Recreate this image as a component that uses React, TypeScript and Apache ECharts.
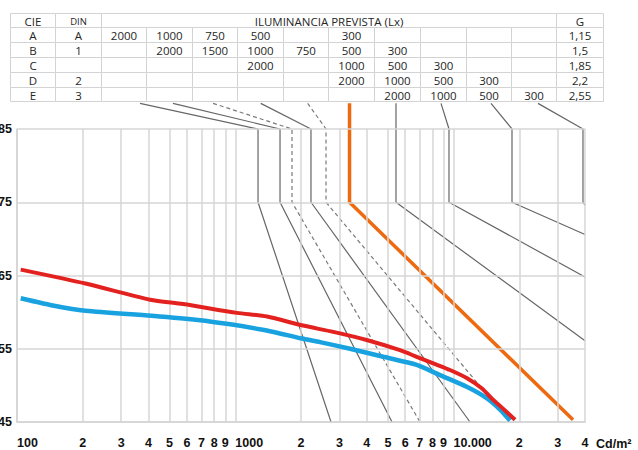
import React, { useEffect, useRef } from 'react';
import * as echarts from 'echarts';

// ---- axis ticks ----
const xTickValues = [100, 200, 300, 400, 500, 600, 700, 800, 900, 1000, 2000, 3000, 4000, 5000, 6000, 7000, 8000, 9000, 10000, 20000, 30000, 40000];
const xTickLabels = ['100', '2', '3', '4', '5', '6', '7', '8', '9', '1000', '2', '3', '4', '5', '6', '7', '8', '9', '10.000', '2', '3', '4'];
const yTickValues = [45, 55, 65, 75, 85];
const yTickLabels = ['45', '55', '65', '75', '85'];

// ---- curves (luminance cd/m², glare angle) ----
const redCurve = [[104, 65.8], [206, 63.9], [407, 61.7], [576, 61.1], [1018, 59.9], [1397, 59.4], [2015, 58.2], [2812, 57.3], [4000, 56.2], [5683, 54.8], [6778, 53.9], [8074, 53.0], [9630, 52.1], [11486, 51.0], [13452, 49.6], [15205, 48.0], [16320, 47.2], [19120, 45.3]];
const blueCurve = [[104, 61.9], [152, 60.8], [206, 60.2], [414, 59.5], [689, 58.9], [913, 58.4], [1393, 57.5], [2015, 56.4], [2444, 55.9], [3354, 55.0], [4765, 53.9], [6778, 52.8], [8667, 51.4], [11486, 49.8], [14180, 48.25], [16320, 46.7], [18140, 45.2]];
const orangeLimit = [[3337, 88.5], [3337, 75], [35250, 45.3]];
const solidGuides = [
  [[366, 88.5], [1271, 85], [1271, 75], [2745, 45]],
  [[518, 88.5], [1603, 85], [1603, 75], [5224, 45]],
  [[1308, 88.5], [2222, 85], [2222, 75], [11890, 45]],
  [[5447, 88.5], [5447, 75], [40000, 56.1]],
  [[8758, 88.5], [9528, 85], [9528, 75], [40000, 64.8]],
  [[14840, 88.5], [18520, 85], [18520, 75], [40000, 70.6]],
  [[24360, 88.5], [39160, 85], [39160, 75], [40000, 74.6]],
];
const dashedGuides = [
  [[791, 88.5], [1819, 85], [1819, 75], [7019, 45]],
  [[2146, 88.5], [2604, 85], [2604, 75], [18140, 45]],
];

// ---- table ----
const tableHeaders = ['CIE', 'DIN', 'ILUMINANCIA PREVISTA (Lx)', 'G'];
const cieClasses = ['A', 'B', 'C', 'D', 'E'];
const dinClasses = ['A', '1', '', '2', '3'];
const illuminanceRows = [
  ['2000', '1000', '750', '500', '', '300', '', '', '', ''],
  ['', '2000', '1500', '1000', '750', '500', '300', '', '', ''],
  ['', '', '', '2000', '', '1000', '500', '300', '', ''],
  ['', '', '', '', '', '2000', '1000', '500', '300', ''],
  ['', '', '', '', '', '', '2000', '1000', '500', '300'],
];
const gFactors = ['1,15', '1,5', '1,85', '2,2', '2,55'];

const AXIS_FONT = '"Liberation Sans", Arial, sans-serif';
const TABLE_FONT = '"Open Sans", "Noto Sans", sans-serif';

function buildTable() {
  const colX = [10, 55, 101, 146, 192, 237, 283, 328, 374, 420, 466, 511, 556, 603];
  const rowY = [13, 27, 42, 57, 72, 87, 101];
  const els: any[] = [];
  const cell = (c0: number, c1: number, r: number, text: string, small = false) => {
    const x = colX[c0] + 0.5, y = rowY[r] + 0.5;
    const w = colX[c1] - colX[c0], h = rowY[r + 1] - rowY[r];
    els.push({ type: 'rect', shape: { x, y, width: w, height: h }, style: { fill: '#fff', stroke: '#d3d3d3', lineWidth: 1 }, z: 0 });
    if (text) {
      els.push({
        type: 'text', x: x + w / 2, y: y + h / 2 + 0.5, z: 1,
        style: {
          text, fill: '#262626', fontSize: small ? 9.5 : 11.5, fontFamily: TABLE_FONT, lineHeight: 11,
          align: 'center', verticalAlign: 'middle', textAlign: 'center', textVerticalAlign: 'middle',
        },
      });
    }
  };
  cell(0, 1, 0, tableHeaders[0]);
  cell(1, 2, 0, tableHeaders[1], true);
  cell(2, 12, 0, tableHeaders[2]);
  cell(12, 13, 0, tableHeaders[3]);
  for (let r = 0; r < 5; r++) {
    cell(0, 1, r + 1, cieClasses[r]);
    cell(1, 2, r + 1, dinClasses[r]);
    for (let c = 0; c < 10; c++) cell(c + 2, c + 3, r + 1, illuminanceRows[r][c]);
    cell(12, 13, r + 1, gFactors[r]);
  }
  return els;
}

const guideSeries = (data: number[][], dashed: boolean) => ({
  type: 'line', data, symbol: 'none', clip: false, silent: true, z: 3,
  lineStyle: { color: dashed ? '#7a7a7a' : '#666666', width: 1.2, type: dashed ? [4, 3] : 'solid' },
});

const option: any = {
  animation: false,
  backgroundColor: '#ffffff',
  grid: { left: 17, right: 53, top: 129, bottom: 26, containLabel: false },
  xAxis: {
    type: 'log', logBase: 10, min: 100, max: 40000,
    axisLine: { show: true, lineStyle: { color: '#cfcfcf', width: 1.5 } },
    axisTick: { show: false }, axisLabel: { show: false }, splitLine: { show: false },
    name: 'Cd/m²', nameLocation: 'end', nameGap: 11,
    nameTextStyle: { color: '#111', fontWeight: 'bold', fontSize: 12.5, fontFamily: AXIS_FONT, align: 'left', verticalAlign: 'top', padding: [15, 0, 0, 0] },
  },
  yAxis: {
    type: 'value', min: 45, max: 85,
    axisLine: { show: true, lineStyle: { color: '#cfcfcf', width: 1.5 } },
    axisTick: { show: false }, axisLabel: { show: false }, splitLine: { show: false },
  },
  graphic: { elements: buildTable() },
  series: [
    {
      type: 'line', data: [], silent: true, z: 1,
      markLine: {
        silent: true, symbol: ['none', 'none'], animation: false,
        lineStyle: { color: '#d6d6d6', width: 1.5, type: 'solid' },
        label: { show: true, position: 'start', distance: 14, color: '#111', fontWeight: 'bold', fontSize: 12.5, fontFamily: AXIS_FONT, verticalAlign: 'top' },
        data: xTickValues.map((v, i) => ({
          xAxis: v,
          label: { formatter: xTickLabels[i], align: xTickLabels[i].length > 1 ? 'left' : 'center' },
        })),
      },
    },
    {
      type: 'line', data: [], silent: true, z: 1,
      markLine: {
        silent: true, symbol: ['none', 'none'], animation: false,
        lineStyle: { color: '#d6d6d6', width: 1.5, type: 'solid' },
        label: { show: true, position: 'start', distance: 5, color: '#111', fontWeight: 'bold', fontSize: 12.5, fontFamily: AXIS_FONT, align: 'right', verticalAlign: 'middle' },
        data: yTickValues.map((v, i) => ({ yAxis: v, label: { formatter: yTickLabels[i] } })),
      },
    },
    ...solidGuides.map((d) => guideSeries(d, false)),
    ...dashedGuides.map((d) => guideSeries(d, true)),
    { type: 'line', data: orangeLimit, symbol: 'none', clip: false, silent: true, z: 4, lineStyle: { color: '#ee6a10', width: 3.5 } },
    { type: 'line', data: blueCurve, symbol: 'none', smooth: 0.25, silent: true, z: 5, lineStyle: { color: '#18a3e0', width: 4.5 } },
    { type: 'line', data: redCurve, symbol: 'none', smooth: 0.25, silent: true, z: 6, lineStyle: { color: '#e3221f', width: 4 } },
  ],
};

export default function App() {
  const ref = useRef<HTMLDivElement>(null);
  useEffect(() => {
    const chart = echarts.init(ref.current!, null, { renderer: 'svg' });
    chart.setOption(option);
    return () => chart.dispose();
  }, []);
  return <div ref={ref} style={{ position: 'absolute', left: 0, top: 0, width: 638, height: 450, background: '#fff' }} />;
}
